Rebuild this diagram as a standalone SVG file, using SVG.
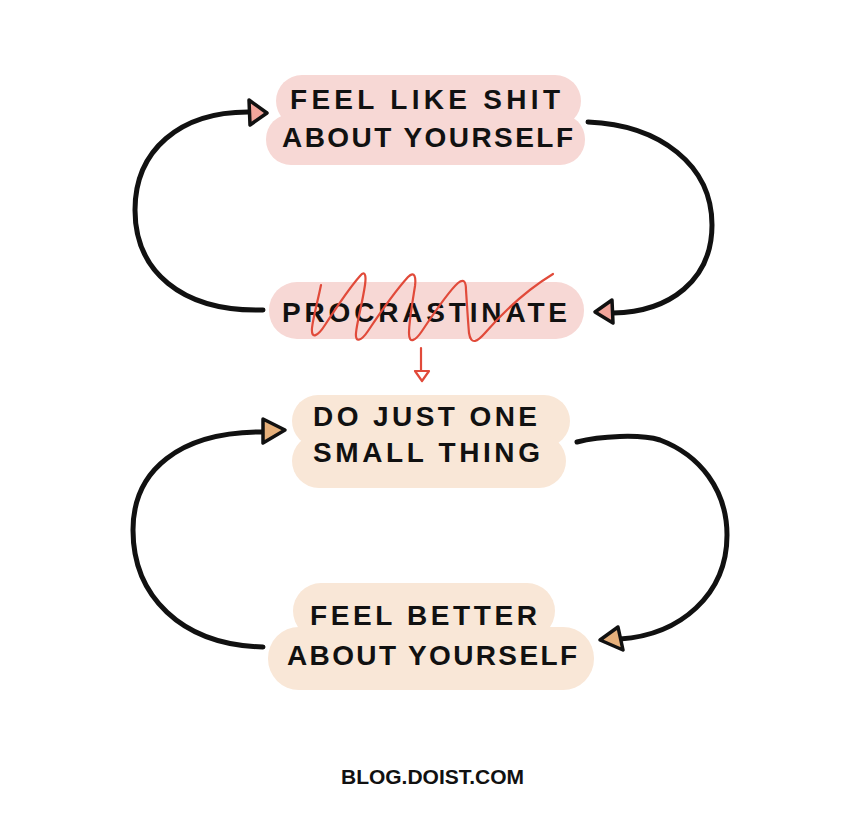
<svg xmlns="http://www.w3.org/2000/svg" width="864" height="830" viewBox="0 0 864 830">
  <style>
    .pink { fill: #f7d8d5; }
    .beige { fill: #f9e7d7; }
    .lbl { font-family: "Liberation Sans", Arial, sans-serif; font-weight: bold; font-size: 28px; fill: #111; }
    .small { font-family: "Liberation Sans", Arial, sans-serif; font-weight: bold; font-size: 21px; fill: #111; }
    .conn { fill: none; stroke: #111; stroke-width: 5; stroke-linecap: round; }
    .headP { fill: #f2a59b; stroke: #111; stroke-width: 3.5; stroke-linejoin: round; }
    .headB { fill: #e6b07b; stroke: #111; stroke-width: 3.5; stroke-linejoin: round; }
    .red { fill: none; stroke: #e14a3a; stroke-width: 2.2; stroke-linecap: round; stroke-linejoin: round; }
  </style>
  <rect width="864" height="830" fill="#ffffff"/>

  <g id="node-feel-like-shit">
    <rect class="pink" x="276" y="75" width="305" height="52" rx="26"/>
    <rect class="pink" x="266" y="114" width="319" height="51" rx="25"/>
    <text class="lbl" x="290" y="109" textLength="270" lengthAdjust="spacing">FEEL LIKE SHIT</text>
    <text class="lbl" x="282" y="147" textLength="291" lengthAdjust="spacing">ABOUT YOURSELF</text>
  </g>

  <g id="node-procrastinate">
    <rect class="pink" x="269" y="282" width="315" height="57" rx="28"/>
    <text class="lbl" x="282" y="322" textLength="285" lengthAdjust="spacing">PROCRASTINATE</text>
    <path class="red" d="M321,285 C318,300 313,318 312,328 C311,340 318,336 325,325 C338,305 352,285 360,276 C366,269 366,278 365,285 C362,305 357,322 356,333 C355,344 362,340 368,331 C382,310 398,288 408,277 C415,270 416,278 415,286 C412,305 409,322 409,333 C409,345 416,340 422,331 C436,310 450,290 458,283 C464,278 466,282 466,290 C467,305 468,322 469,333 C471,346 478,341 485,333 C505,310 530,288 553,274"/>
  </g>

  <g id="node-do-just-one">
    <rect class="beige" x="292" y="395" width="278" height="52" rx="26"/>
    <rect class="beige" x="292" y="434" width="274" height="54" rx="27"/>
    <text class="lbl" x="313" y="426" textLength="224" lengthAdjust="spacing">DO JUST ONE</text>
    <text class="lbl" x="313" y="462" textLength="227" lengthAdjust="spacing">SMALL THING</text>
  </g>

  <g id="node-feel-better">
    <rect class="beige" x="293" y="583" width="262" height="56" rx="28"/>
    <rect class="beige" x="268" y="627" width="326" height="63" rx="31"/>
    <text class="lbl" x="310" y="625" textLength="227" lengthAdjust="spacing">FEEL BETTER</text>
    <text class="lbl" x="287" y="665" textLength="290" lengthAdjust="spacing">ABOUT YOURSELF</text>
  </g>

  <g id="connectors">
    <path class="conn" d="M263,310 C180,312 135,270 135,210 C135,150 180,112 248,112"/>
    <polygon class="headP" points="249,100 267,113 250,125"/>

    <path class="conn" d="M588,122 C660,125 712,165 712,225 C712,280 670,312 613,313"/>
    <polygon class="headP" points="612,300 595,312 613,323"/>

    <path class="conn" d="M263,647 C180,645 133,595 133,530 C133,470 180,432 262,432"/>
    <polygon class="headB" points="263,419 285,430 263,443"/>

    <path class="conn" d="M577,442 C600,436 640,434 660,440 C700,455 727,490 727,535 C727,595 680,635 620,639"/>
    <polygon class="headB" points="618,627 600,640 623,650"/>

    <path class="red" d="M421,348 L421,370"/>
    <polygon class="red" points="415,371 429,371 422,381"/>
  </g>

  <text class="small" x="341" y="784" textLength="183" lengthAdjust="spacing">BLOG.DOIST.COM</text>
</svg>
